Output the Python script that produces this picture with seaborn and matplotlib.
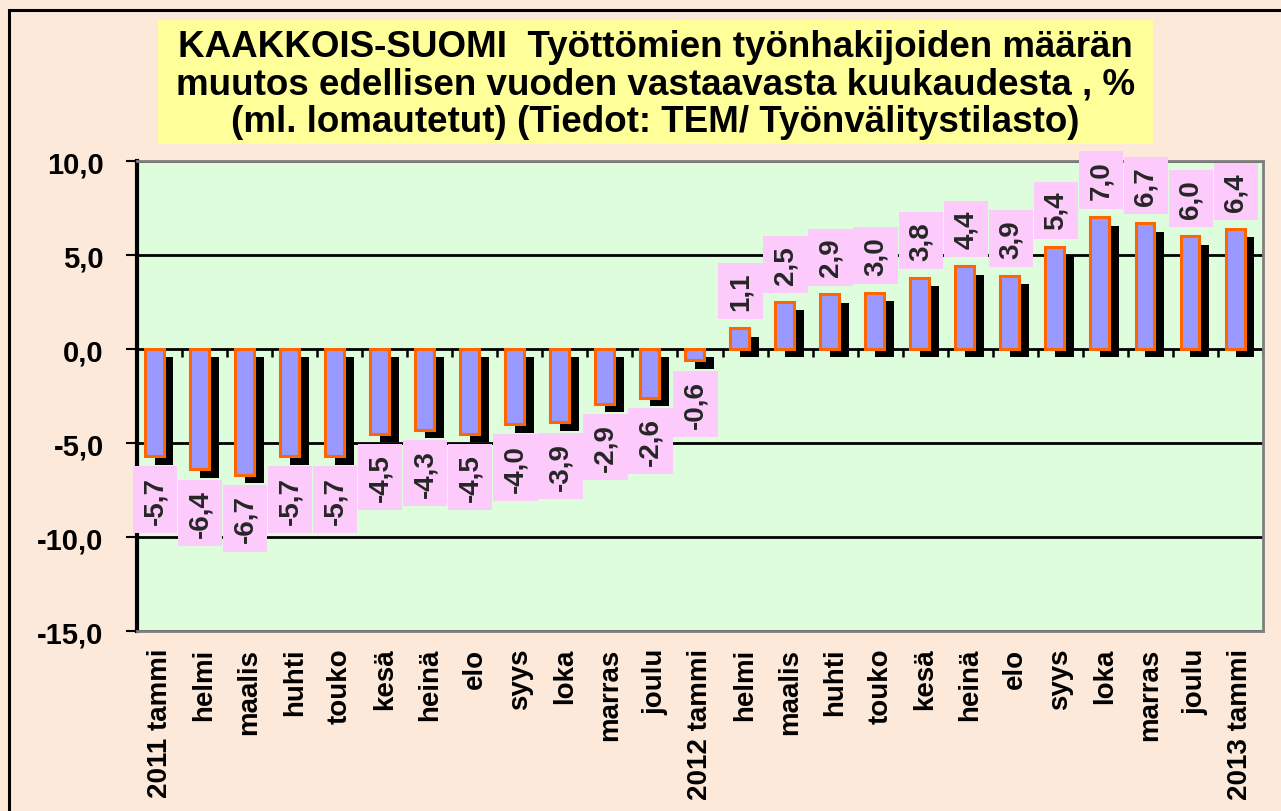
import matplotlib
matplotlib.use("Agg")
import matplotlib.pyplot as plt
import seaborn as sns
import numpy as np
import pandas as pd
from matplotlib.patches import Rectangle
from matplotlib.ticker import FuncFormatter, FixedLocator

categories = ["2011 tammi", "helmi", "maalis", "huhti", "touko", "kesä", "heinä", "elo",
              "syys", "loka", "marras", "joulu", "2012 tammi", "helmi", "maalis", "huhti",
              "touko", "kesä", "heinä", "elo", "syys", "loka", "marras", "joulu", "2013 tammi"]
values = [-5.7, -6.4, -6.7, -5.7, -5.7, -4.5, -4.3, -4.5, -4.0, -3.9, -2.9, -2.6, -0.6,
          1.1, 2.5, 2.9, 3.0, 3.8, 4.4, 3.9, 5.4, 7.0, 6.7, 6.0, 6.4]
title_lines = ["KAAKKOIS-SUOMI  Työttömien työnhakijoiden määrän",
               "muutos edellisen vuoden vastaavasta kuukaudesta , %",
               "(ml. lomautetut) (Tiedot: TEM/ Työnvälitystilasto)"]
y_ticks = [-15, -10, -5, 0, 5, 10]

sns.set_theme(style="white")
plt.rcParams['font.family'] = ['Liberation Sans', 'DejaVu Sans']
plt.rcParams['font.weight'] = 'bold'

W, H = 1281, 812
fig = plt.figure(figsize=(W / 100, H / 100), dpi=100)
fig.patch.set_facecolor("#fde9d9")

# outer frame
fig.patches.append(Rectangle((9 / W, -0.1), 1.2, 1 - 11 / H + 0.1, transform=fig.transFigure,
                             fill=False, edgecolor="black", linewidth=2.2, zorder=0))

ax = fig.add_axes([137 / W, 1 - 632 / H, (1263 - 137) / W, (632 - 162) / H])
ax.set_facecolor("#ddfddd")

df = pd.DataFrame({"idx": np.arange(len(values)), "value": values})
n = len(values)
bw = 0.42
shift = -0.12

# shadow bars
ax.bar(df["idx"] + shift + 0.22, df["value"], bottom=-0.45, width=bw, color="black",
       edgecolor="none", zorder=2)

sns.barplot(data=df, x="idx", y="value", color="#9999ff", saturation=1, width=bw,
            edgecolor="#ff6600", linewidth=2.2, ax=ax, zorder=3)
for p in ax.patches:
    if p.get_facecolor()[0] > 0.5:
        p.set_x(p.get_x() + shift)

# gridlines
for yv in y_ticks:
    ax.axhline(yv, color="black", linewidth=2, zorder=1)

# small category ticks on zero line
ax.vlines(np.arange(n) + 0.5, -0.45, 0, color="black", linewidth=1.8, zorder=1)

# value labels
box = dict(boxstyle="square,pad=0.33", facecolor="#fccbfc", edgecolor="none")
for i, v in enumerate(values):
    lab = f"{v:.1f}".replace(".", ",")
    if v >= 0:
        ax.annotate(lab, (i + shift + 0.02, v), xytext=(0, 13), textcoords="offset points",
                    rotation=90, ha="center", va="bottom", fontsize=20, fontweight="bold",
                    bbox=box, zorder=5)
    else:
        ax.annotate(lab, (i + shift + 0.02, v), xytext=(0, -14), textcoords="offset points",
                    rotation=90, ha="center", va="top", fontsize=20, fontweight="bold",
                    bbox=box, zorder=5)

ax.set_xlim(-0.5, n - 0.5)
ax.set_ylim(-15, 10)
ax.yaxis.set_major_locator(FixedLocator(y_ticks))
ax.yaxis.set_major_formatter(FuncFormatter(lambda v, p: f"{v:.1f}".replace(".", ",")))
ax.set_xticks(np.arange(n))
ax.set_xticklabels(categories, rotation=90, fontsize=20, fontweight="bold", color="black")
ax.tick_params(axis="x", length=0, pad=12)
ax.tick_params(axis="y", length=8, width=1.5, color="black", direction="out", left=True,
               labelsize=21, pad=16, labelcolor="black")
for t in ax.get_yticklabels():
    t.set_fontweight("bold")
ax.set_xlabel("")
ax.set_ylabel("")

for s in ["top", "right", "bottom"]:
    ax.spines[s].set_color("#7f7f7f")
    ax.spines[s].set_linewidth(2)
    ax.spines[s].set_visible(True)
ax.spines["left"].set_color("black")
ax.spines["left"].set_linewidth(3)
ax.spines["left"].set_visible(True)

# title box
fig.patches.append(Rectangle((158 / W, 1 - 145 / H), (1153 - 158) / W, (145 - 21) / H,
                             transform=fig.transFigure, facecolor="#ffff99",
                             edgecolor="none", zorder=1))
fig.text((158 + 1153) / 2 / W, 1 - 85 / H, "\n".join(title_lines), ha="center", va="center",
         fontsize=26.5, fontweight="bold", linespacing=1.08, color="black", zorder=2)

fig.savefig("out.png", dpi=100, facecolor=fig.get_facecolor())
